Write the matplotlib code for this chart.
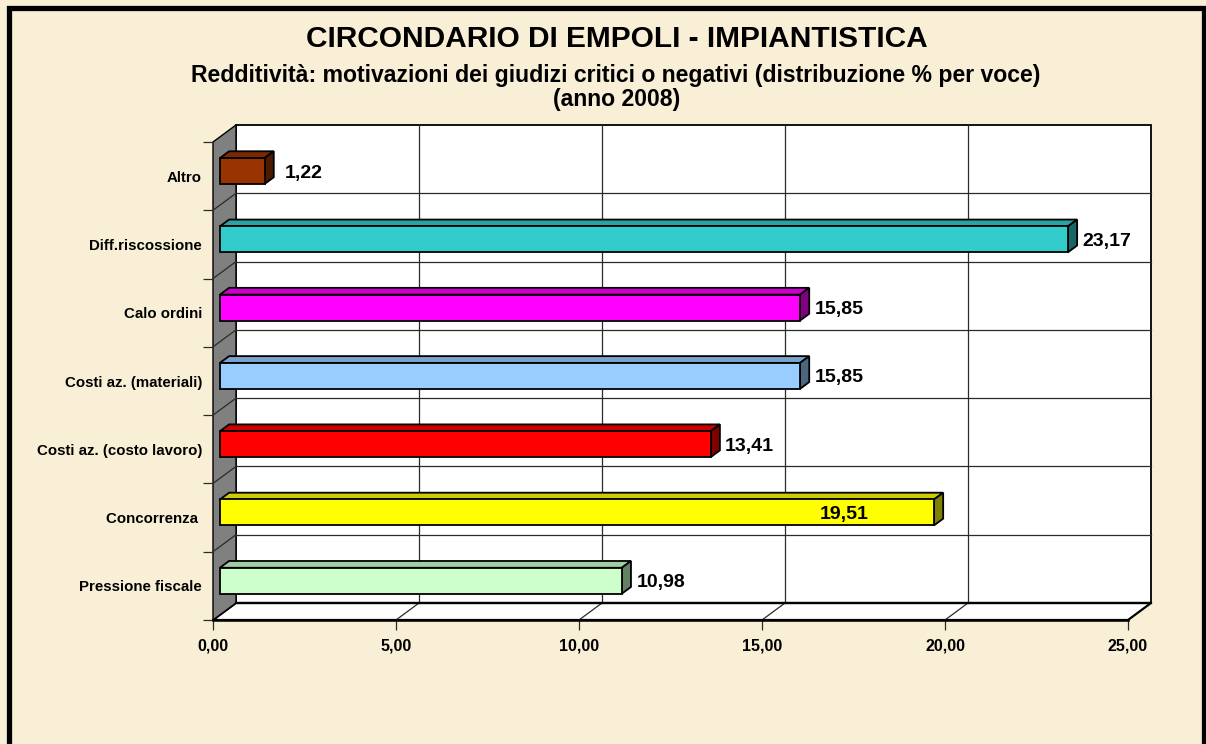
import numpy as np
import matplotlib
matplotlib.use("Agg")
import matplotlib.pyplot as plt
from matplotlib.patches import Polygon, Rectangle
from matplotlib.lines import Line2D
from matplotlib.transforms import IdentityTransform
from matplotlib.colors import to_rgb

plt.rcParams['font.family'] = ['Liberation Sans', 'DejaVu Sans']
plt.rcParams['font.weight'] = 'bold'

# dati (dal basso verso l'alto)
categorie = ['Pressione fiscale', 'Concorrenza ', 'Costi az. (costo lavoro)',
             'Costi az. (materiali)', 'Calo ordini', 'Diff.riscossione', 'Altro']
valori = [10.98, 19.51, 13.41, 15.85, 15.85, 23.17, 1.22]
colori = ['#CCFFCC', '#FFFF00', '#FF0000', '#99CCFF', '#FF00FF', '#33CCCC', '#993300']
x_ticks = [0, 5, 10, 15, 20, 25]

titolo = 'CIRCONDARIO DI EMPOLI - IMPIANTISTICA'
sottotitolo = 'Redditività: motivazioni dei giudizi critici o negativi (distribuzione % per voce)'
anno = '(anno 2008)'

W, H = 1206, 744
DX, DY = 23, 17          # profondità 3D in pixel
T0, T1 = 0.3, 0.7        # profondità delle barre
HALF = 0.19              # mezza altezza barra (unità categoria)
bg = '#F8EFD6'

fig = plt.figure(figsize=(W / 100, H / 100), dpi=100, facecolor=bg)
ax = fig.add_axes([213 / W, 124 / H, 915 / W, 478 / H])
ax.set_xlim(0, 25)
ax.set_ylim(-0.5, len(categorie) - 0.5)
ax.set_facecolor('none')
for s in ax.spines.values():
    s.set_visible(False)


def P(x, y, t):
    px, py = ax.transData.transform((x, y))
    return (px + DX * t, py + DY * t)


def poly(pts, fc, ec='black', lw=1.0, z=1):
    ax.add_patch(Polygon(pts, closed=True, facecolor=fc, edgecolor=ec, lw=lw,
                         transform=IdentityTransform(), clip_on=False, zorder=z))


def line(a, b, color='#2a2a2a', lw=0.9, z=2):
    ax.add_line(Line2D([a[0], b[0]], [a[1], b[1]], color=color, lw=lw,
                       transform=IdentityTransform(), clip_on=False, zorder=z))


ymin, ymax = -0.5, len(categorie) - 0.5

# parete di fondo
poly([P(0, ymin, 1), P(25, ymin, 1), P(25, ymax, 1), P(0, ymax, 1)], 'white', lw=1.3, z=1)
# pavimento
poly([P(0, ymin, 0), P(25, ymin, 0), P(25, ymin, 1), P(0, ymin, 1)], 'white', lw=1.6, z=1)
# parete sinistra
poly([P(0, ymin, 0), P(0, ymin, 1), P(0, ymax, 1), P(0, ymax, 0)], '#808080', lw=1.0, z=1)

# griglia
for xv in x_ticks[1:-1]:
    line(P(xv, ymin, 1), P(xv, ymax, 1))
    line(P(xv, ymin, 0), P(xv, ymin, 1))
for k in range(1, len(categorie)):
    yb = k - 0.5
    line(P(0, yb, 1), P(25, yb, 1))
    line(P(0, yb, 0), P(0, yb, 1))
line(P(0, ymin, 1), P(25, ymin, 1), color='black', lw=1.6, z=2)
line(P(0, ymin, 0), P(25, ymin, 0), color='black', lw=1.8, z=2)


def shade(c, f):
    r, g, b = to_rgb(c)
    return (r * f, g * f, b * f)


# barre 3D
for i, (cat, v, c) in enumerate(zip(categorie, valori, colori)):
    y0, y1 = i - HALF, i + HALF
    poly([P(0, y1, T0), P(v, y1, T0), P(v, y1, T1), P(0, y1, T1)], shade(c, 0.8), lw=1.3, z=3)
    poly([P(v, y0, T0), P(v, y1, T0), P(v, y1, T1), P(v, y0, T1)], shade(c, 0.5), lw=1.3, z=3)
    poly([P(0, y0, T0), P(v, y0, T0), P(v, y1, T0), P(0, y1, T0)], c, lw=1.3, z=4)
    px, py = P(v, i, T0)
    dx = -90 if cat.startswith('Concorrenza') else 39
    ax.text(px + dx, py - 2, f'{v:.2f}'.replace('.', ','), transform=IdentityTransform(),
            ha='center', va='center', fontsize=14, fontweight='bold', zorder=5)

# assi
ax.set_xticks(x_ticks)
ax.set_xticklabels([f'{t:.2f}'.replace('.', ',') for t in x_ticks], fontsize=11.5, fontweight='bold')
ax.set_yticks(np.arange(len(categorie) + 1) - 0.5)
ax.set_yticklabels([])
ax.set_yticks(range(len(categorie)), minor=True)
ax.set_yticklabels(categorie, minor=True, fontsize=10.8, fontweight='bold')
ax.tick_params(axis='x', length=7, width=0.9, color='#2a2a2a', pad=6)
ax.tick_params(axis='y', which='major', length=7, width=0.9, color='#2a2a2a')
ax.tick_params(axis='y', which='minor', length=0, pad=8)

# titoli
fig.text(617 / W, 1 - 47 / H, titolo, ha='center', va='baseline', fontsize=21.5, fontweight='bold')
fig.text(616 / W, 1 - 82 / H, sottotitolo, ha='center', va='baseline', fontsize=16.6, fontweight='bold')
fig.text(617 / W, 1 - 106 / H, anno, ha='center', va='baseline', fontsize=16.6, fontweight='bold')

# cornice
fig.patches.append(Rectangle((8.5, -20), 1195, H - 7.5 + 20, fill=False, edgecolor='black',
                             lw=3.8, transform=IdentityTransform(), figure=fig))

fig.savefig('out.png', dpi=100, facecolor=bg)
